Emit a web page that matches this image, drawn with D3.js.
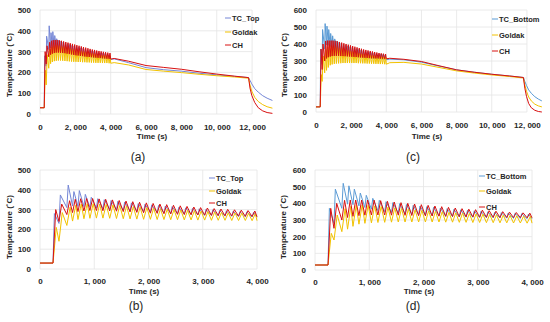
<!DOCTYPE html>
<html>
<head>
<meta charset="utf-8">
<script src="https://cdn.jsdelivr.net/npm/d3@7"></script>
<style>
body { margin: 0; background: #fff; }
text { font-family: "Liberation Sans", Arial, sans-serif; fill: #262626; }
</style>
</head>
<body>
<svg id="chart" width="550" height="322"></svg>
<script>
// ---- data ----
const startTemp = 30;
const detailEnd = 4000;

// times (s) at which each weld pass starts
const passTimes = [240, 350, 495, 600, 700, 810, 920, 1040, 1160, 1285, 1410, 1535, 1660, 1785, 1910,
  2035, 2160, 2285, 2410, 2535, 2660, 2785, 2910, 3035, 3160, 3285, 3410, 3535, 3660, 3785, 3910];

// top thermocouple: peak and following low per pass
const tcTopPeaks = [280, 374, 424, 391, 396, 377, 362, 355, 350, 346, 342, 338, 334, 330, 327, 324, 321, 318, 315, 312, 309, 306, 304, 301, 299, 296, 294, 292, 290, 288, 286];
const tcTopLows = [230, 310, 318, 316, 315, 312, 308, 305, 302, 299, 296, 293, 291, 289, 287, 285, 283, 281, 279, 277, 275, 273, 271, 270, 268, 267, 266, 265, 264, 263, 262];
const goldakTopPeaks = [210, 285, 312, 322, 328, 330, 330, 328, 326, 324, 321, 318, 315, 312, 310, 307, 304, 302, 300, 298, 296, 294, 292, 290, 288, 286, 284, 283, 282, 281, 280];
const goldakTopLows = [140, 220, 242, 250, 254, 256, 257, 257, 256, 255, 254, 253, 252, 251, 251, 250, 250, 249, 249, 248, 248, 247, 247, 246, 246, 246, 245, 245, 245, 244, 244];
const chTopPeaks = [300, 328, 345, 352, 355, 356, 356, 354, 352, 349, 346, 343, 340, 337, 334, 331, 328, 325, 322, 319, 316, 313, 310, 308, 305, 303, 301, 299, 297, 295, 293];
const chTopLows = [240, 275, 285, 290, 293, 295, 295, 294, 293, 292, 290, 288, 286, 284, 282, 281, 279, 278, 276, 275, 274, 273, 272, 271, 270, 269, 268, 267, 266, 265, 264];

// bottom thermocouple
const tcBotPeaks = [370, 485, 520, 505, 485, 462, 448, 430, 418, 410, 404, 398, 393, 388, 384, 380, 376, 372, 368, 364, 361, 358, 355, 352, 349, 346, 344, 342, 340, 338, 336];
const tcBotLows = [280, 370, 395, 392, 385, 375, 365, 356, 350, 345, 341, 337, 334, 331, 328, 326, 324, 322, 320, 318, 317, 316, 315, 314, 313, 312, 311, 310, 309, 308, 307];
const goldakBotPeaks = [220, 330, 368, 382, 388, 390, 388, 385, 381, 377, 373, 369, 365, 361, 358, 355, 352, 349, 346, 343, 341, 339, 337, 335, 333, 331, 329, 327, 325, 323, 322];
const goldakBotLows = [180, 230, 245, 262, 275, 280, 283, 285, 286, 287, 288, 288, 288, 288, 288, 288, 288, 287, 287, 286, 286, 285, 285, 284, 284, 283, 283, 282, 282, 281, 281];
const chBotPeaks = [370, 400, 418, 420, 420, 420, 420, 419, 416, 412, 408, 404, 400, 396, 392, 388, 384, 380, 376, 372, 368, 365, 362, 359, 356, 353, 350, 347, 345, 343, 341];
const chBotLows = [250, 300, 315, 322, 326, 329, 330, 330, 330, 329, 329, 328, 327, 326, 325, 324, 323, 322, 321, 320, 319, 318, 317, 316, 316, 315, 315, 314, 314, 313, 313];

// seconds from pass start to peak
const tcLag = 25, goldakLag = 60, chLag = 50;

// long-time tails (after 4000 s, incl. final cooling)
const tailTimesTop = [4200, 5000, 6000, 7000, 8000, 9000, 10000, 11000, 11800, 11880, 11980, 12150, 12350, 12600, 12850, 13150];
const tcTopTail = [265, 247, 223, 213, 206, 196, 188, 181, 175, 162, 145, 122, 105, 88, 76, 65];
const goldakTopTail = [247, 236, 214, 206, 199, 191, 184, 178, 172, 140, 110, 80, 60, 45, 35, 28];
const chTopTail = [267, 254, 233, 224, 215, 203, 192, 182, 175, 125, 90, 55, 30, 15, 7, 3];

const tailTimesBot = [4200, 5000, 6000, 7000, 8000, 9000, 10000, 11000, 11800, 11880, 11980, 12100, 12250, 12450, 12650, 12850];
const tcBotTail = [311, 307, 293, 270, 248, 234, 222, 212, 203, 180, 155, 130, 110, 90, 76, 65];
const goldakBotTail = [290, 292, 282, 262, 242, 229, 218, 209, 200, 160, 120, 88, 65, 46, 36, 30];
const chBotTail = [316, 310, 297, 272, 248, 234, 222, 212, 203, 140, 90, 50, 25, 10, 3, 0];

const names = ['Goldak', 'CH'];
const colors = { tcTop: '#7486d6', tcBot: '#5b9bd5', goldak: '#f2c200', ch: '#d81010' };

// build [time, temp] list for one series
function buildSeries(peaks, lows, lag, tailT, tailV) {
  const pts = [[0, startTemp], [passTimes[0], startTemp]];
  peaks.forEach((p, i) => {
    pts.push([passTimes[i] + lag, p]);
    const tEnd = i < passTimes.length - 1 ? passTimes[i + 1] : detailEnd;
    pts.push([tEnd, lows[i]]);
  });
  if (tailT) tailT.forEach((t, i) => pts.push([t, tailV[i]]));
  return pts;
}

const svg = d3.select('#chart');
svg.append('rect').attr('width', 550).attr('height', 322).attr('fill', '#fff');

const panels = [
  { x0: 40, x1: 273.3, xMax: 13200, xStep: 2000, xTickMax: 12000, yTop: 10, yBot: 114, yMax: 500,
    labelX: 31, tickPad: 10.3, titleX: 152, titleY: 139, yTitleX: 9, yTitleY: 65,
    cap: '(a)', capX: 138, capY: 161, legX: 225, legYs: [18, 32, 45], tcName: 'TC_Top', tcColor: colors.tcTop,
    series: [buildSeries(tcTopPeaks, tcTopLows, tcLag, tailTimesTop, tcTopTail),
             buildSeries(goldakTopPeaks, goldakTopLows, goldakLag, tailTimesTop, goldakTopTail),
             buildSeries(chTopPeaks, chTopLows, chLag, tailTimesTop, chTopTail)] },
  { x0: 316, x1: 544.5, xMax: 13000, xStep: 2000, xTickMax: 12000, yTop: 10, yBot: 112, yMax: 600,
    labelX: 307, tickPad: 10.3, titleX: 427, titleY: 139, yTitleX: 284, yTitleY: 65,
    cap: '(c)', capX: 413, capY: 161, legX: 492, legYs: [19, 35, 51], tcName: 'TC_Bottom', tcColor: colors.tcBot,
    series: [buildSeries(tcBotPeaks, tcBotLows, tcLag, tailTimesBot, tcBotTail),
             buildSeries(goldakBotPeaks, goldakBotLows, goldakLag, tailTimesBot, goldakBotTail),
             buildSeries(chBotPeaks, chBotLows, chLag, tailTimesBot, chBotTail)] },
  { x0: 40, x1: 257, xMax: 4000, xStep: 1000, xTickMax: 4000, yTop: 170, yBot: 269, yMax: 500,
    labelX: 31, tickPad: 9.3, titleX: 144, titleY: 294, yTitleX: 9, yTitleY: 227,
    cap: '(b)', capX: 136, capY: 310, legX: 209, legYs: [178, 191, 203], tcName: 'TC_Top', tcColor: colors.tcTop,
    series: [buildSeries(tcTopPeaks, tcTopLows, tcLag),
             buildSeries(goldakTopPeaks, goldakTopLows, goldakLag),
             buildSeries(chTopPeaks, chTopLows, chLag)] },
  { x0: 315, x1: 532, xMax: 4000, xStep: 1000, xTickMax: 4000, yTop: 170, yBot: 270, yMax: 600,
    labelX: 306, tickPad: 9.3, titleX: 419, titleY: 294, yTitleX: 283, yTitleY: 227,
    cap: '(d)', capX: 413, capY: 310, legX: 479, legYs: [176, 191, 207], tcName: 'TC_Bottom', tcColor: colors.tcBot,
    series: [buildSeries(tcBotPeaks, tcBotLows, tcLag),
             buildSeries(goldakBotPeaks, goldakBotLows, goldakLag),
             buildSeries(chBotPeaks, chBotLows, chLag)] }
];

const fmt = v => d3.format(',')(v).replace(',', ', ');

panels.forEach(p => {
  const x = d3.scaleLinear().domain([0, p.xMax]).range([p.x0, p.x1]);
  const y = d3.scaleLinear().domain([0, p.yMax]).range([p.yBot, p.yTop]);
  const xTicks = d3.range(0, p.xTickMax + 1, p.xStep);
  const yTicks = d3.range(0, p.yMax + 1, 100);
  const g = svg.append('g');

  // gridlines
  g.selectAll('.hg').data(yTicks).enter().append('line')
    .attr('x1', p.x0).attr('x2', x(p.xTickMax))
    .attr('y1', d => y(d)).attr('y2', d => y(d))
    .attr('stroke', '#e4e4e4').attr('stroke-width', 0.8);
  g.selectAll('.vg').data(xTicks).enter().append('line')
    .attr('x1', d => x(d)).attr('x2', d => x(d))
    .attr('y1', p.yTop).attr('y2', p.yBot)
    .attr('stroke', '#e4e4e4').attr('stroke-width', 0.8);

  // axes (labels only)
  const ax = g.append('g').attr('transform', `translate(0,${p.yBot})`)
    .call(d3.axisBottom(x).tickValues(xTicks).tickSize(0).tickPadding(p.tickPad).tickFormat(fmt));
  const ay = g.append('g').attr('transform', `translate(${p.x0},0)`)
    .call(d3.axisLeft(y).tickValues(yTicks).tickSize(0).tickPadding(p.x0 - p.labelX));
  [ax, ay].forEach(a => {
    a.select('.domain').remove();
    a.selectAll('text').attr('font-size', 8).attr('font-weight', 'bold')
      .attr('font-family', '"Liberation Sans", Arial, sans-serif').attr('fill', '#262626');
  });

  // series lines
  const line = d3.line().x(d => x(d[0])).y(d => y(d[1]));
  const cols = [p.tcColor, colors.goldak, colors.ch];
  p.series.forEach((s, i) => {
    g.append('path').datum(s)
      .attr('d', line)
      .attr('fill', 'none')
      .attr('stroke', cols[i])
      .attr('stroke-width', 1)
      .attr('stroke-linejoin', 'round');
  });

  // legend
  const labels = [p.tcName].concat(names);
  labels.forEach((name, i) => {
    g.append('line')
      .attr('x1', p.legX).attr('x2', p.legX + 6)
      .attr('y1', p.legYs[i]).attr('y2', p.legYs[i])
      .attr('stroke', cols[i]).attr('stroke-width', 1);
    g.append('text')
      .attr('x', p.legX + 7).attr('y', p.legYs[i] + 2.8)
      .attr('font-size', 7.5).attr('font-weight', 'bold')
      .text(name);
  });

  // titles
  g.append('text')
    .attr('x', p.titleX).attr('y', p.titleY)
    .attr('text-anchor', 'middle')
    .attr('font-size', 8).attr('font-weight', 'bold')
    .text('Time (s)');
  g.append('text')
    .attr('transform', `translate(${p.yTitleX + 3},${p.yTitleY}) rotate(-90)`)
    .attr('text-anchor', 'middle')
    .attr('font-size', 8).attr('font-weight', 'bold')
    .text('Temperature (˚C)');
  g.append('text')
    .attr('x', p.capX).attr('y', p.capY)
    .attr('text-anchor', 'middle')
    .attr('font-family', '"Liberation Serif", "Times New Roman", serif')
    .attr('font-size', 12)
    .text(p.cap);
});
</script>
</body>
</html>
